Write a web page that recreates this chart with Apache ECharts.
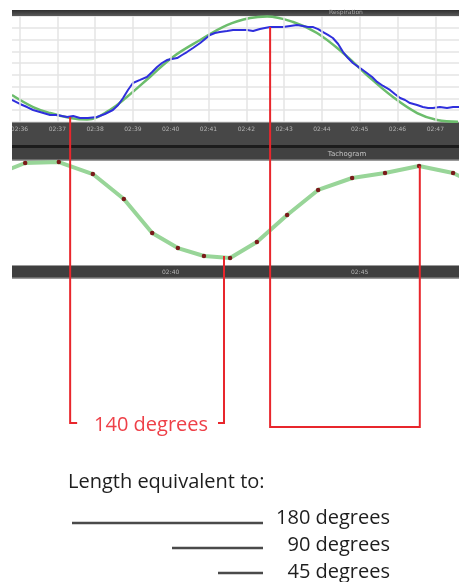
<!DOCTYPE html>
<html>
<head>
<meta charset="utf-8">
<script src="https://cdn.jsdelivr.net/npm/echarts@6/dist/echarts.min.js"></script>
<style>
html,body{margin:0;padding:0;background:#fff;}
#c{width:459px;height:582px;}
</style>
</head>
<body>
<div id="c"></div>
<script>
// ---- data (time in minutes "02:mm", values in arbitrary plot units) ----
const tickPrefix = '02:';
const topTitle = 'Respiration';
const bottomTitle = 'Tachogram';

const respT = [35.80,36.01,36.20,36.36,36.54,36.81,36.99,37.12,37.26,37.42,37.60,37.81,38.05,38.26,38.47,38.61,38.74,38.87,39.00,39.19,39.37,39.51,39.64,39.77,39.90,40.03,40.17,40.30,40.43,40.59,40.78,40.91,41.04,41.17,41.30,41.49,41.65,41.83,42.02,42.18,42.36,42.49,42.63,42.81,42.97,43.16,43.34,43.50,43.63,43.77,43.90,44.03,44.16,44.29,44.43,44.56,44.69,44.82,45.01,45.19,45.33,45.46,45.62,45.80,45.93,46.07,46.20,46.33,46.52,46.67,46.81,46.94,47.12,47.31,47.47,47.63];
const respV = [1.87,1.53,1.27,1.02,0.85,0.59,0.59,0.51,0.42,0.51,0.34,0.34,0.42,0.68,1.02,1.44,2.04,2.72,3.31,3.57,3.82,4.24,4.67,5.01,5.26,5.35,5.43,5.69,5.94,6.28,6.71,7.05,7.39,7.56,7.64,7.72,7.81,7.81,7.81,7.72,7.89,7.98,8.06,8.06,8.06,8.15,8.23,8.15,8.06,8.06,7.89,7.64,7.39,7.13,6.62,5.94,5.43,5.01,4.58,4.16,3.82,3.40,3.06,2.72,2.38,2.04,1.87,1.61,1.44,1.27,1.19,1.19,1.27,1.19,1.27,1.27];

const fitT = [35.80,36.36,36.81,37.34,37.79,38.39,38.84,39.45,40.06,40.78,41.49,42.10,42.55,43.24,43.87,44.56,45.19,45.88,46.52,47.05,47.60];
const fitV = [2.29,1.27,0.76,0.34,0.21,1.02,2.12,3.82,5.52,6.96,8.23,8.83,8.96,8.49,7.56,5.86,3.99,2.12,0.76,0.17,0.02];

const tachoT = [35.27,36.15,37.04,37.94,38.76,39.51,40.19,40.88,41.57,42.28,43.08,43.90,44.80,45.67,46.57,47.47,48.34];
const tachoV = [8.57,9.81,9.90,8.76,6.38,3.14,1.71,0.95,0.76,2.29,4.86,7.24,8.38,8.86,9.52,8.86,7.33];

// annotation: times the red markers point at
const markT = [37.34, 41.41, 42.63, 46.59];
const bracketLabel = '140 degrees';
const scaleTitle = 'Length equivalent to:';
const scaleLabels = ['180 degrees', '90 degrees', '45 degrees'];

const chart = echarts.init(document.getElementById('c'), null, {renderer: 'canvas'});

const gridLeft = -18.3, gridWidth = 491.4;
const option = {
  animation: false,
  backgroundColor: '#ffffff',
  grid: [
    {left: gridLeft, width: gridWidth, top: 16, height: 106, show: false, containLabel: false, outerBoundsMode: 'none'},
    {left: gridLeft, width: gridWidth, top: 161, height: 105, show: false, containLabel: false, outerBoundsMode: 'none'}
  ],
  xAxis: [
    {gridIndex: 0, type: 'value', min: 35, max: 48, interval: 1, z: 10,
     axisLine: {show: false}, axisTick: {show: false},
     axisLabel: {margin: 4, fontSize: 6, color: '#b4b4b4', fontFamily: 'DejaVu Sans', formatter: v => tickPrefix + v},
     splitLine: {show: true, lineStyle: {color: '#e4e4e4', width: 1.5}}},
    {gridIndex: 1, type: 'value', min: 35, max: 48, interval: 5, z: 10,
     axisLine: {show: false}, axisTick: {show: false},
     axisLabel: {margin: 3, fontSize: 6, color: '#b4b4b4', fontFamily: 'DejaVu Sans', formatter: v => tickPrefix + v},
     splitLine: {show: false}}
  ],
  yAxis: [
    {gridIndex: 0, type: 'value', min: 0, max: 9, interval: 1,
     axisLine: {show: false}, axisTick: {show: false}, axisLabel: {show: false},
     splitLine: {show: true, lineStyle: {color: '#e4e4e4', width: 1.5}}},
    {gridIndex: 1, type: 'value', min: 0, max: 10, show: false}
  ],
  series: [
    {type: 'line', xAxisIndex: 0, yAxisIndex: 0, smooth: 0.4, symbol: 'none', z: 3,
     lineStyle: {color: '#6cbd6c', width: 2.5},
     data: fitT.map((t, i) => [t, fitV[i]])},
    {type: 'line', xAxisIndex: 0, yAxisIndex: 0, smooth: false, symbol: 'none', z: 4,
     lineStyle: {color: '#2f2fdc', width: 2},
     data: respT.map((t, i) => [t, respV[i]])},
    {type: 'line', xAxisIndex: 1, yAxisIndex: 1, smooth: false, symbol: 'circle', symbolSize: 4.5, z: 3,
     showAllSymbol: true,
     lineStyle: {color: '#98d598', width: 4},
     itemStyle: {color: '#7a1a1a', borderWidth: 0},
     data: tachoT.map((t, i) => [t, tachoV[i]])}
  ]
};
chart.setOption(option);

const px = markT.map(t => chart.convertToPixel({xAxisIndex: 0}, t));
const red = '#e8262c';
const redLine = {stroke: red, lineWidth: 2, fill: null};
const font = '20px "Open Sans"';

const graphics = [
  // chrome bars
  {type: 'rect', z: 1, shape: {x: 12, y: 10, width: 447, height: 6},
   style: {fill: new echarts.graphic.LinearGradient(0, 0, 0, 1, [{offset: 0, color: '#2f2f2f'}, {offset: 1, color: '#5a5a5a'}])}},
  {type: 'text', z: 2, style: {text: topTitle, x: 346, y: 12, fill: '#a8a8a8', font: '6px DejaVu Sans', textAlign: 'center', textVerticalAlign: 'middle'}},
  {type: 'rect', z: 1, shape: {x: 12, y: 122, width: 447, height: 23}, style: {fill: '#474747'}},
  {type: 'rect', z: 1, shape: {x: 12, y: 122, width: 447, height: 1}, style: {fill: '#8c8c8c'}},
  {type: 'rect', z: 1, shape: {x: 12, y: 145, width: 447, height: 3}, style: {fill: '#1c1c1c'}},
  {type: 'rect', z: 1, shape: {x: 12, y: 148, width: 447, height: 12}, style: {fill: '#414141'}},
  {type: 'rect', z: 1, shape: {x: 12, y: 159.5, width: 447, height: 1.5}, style: {fill: '#9a9a9a'}},
  {type: 'text', z: 2, style: {text: bottomTitle, x: 347, y: 154, fill: '#c4c4c4', font: '7px DejaVu Sans', textAlign: 'center', textVerticalAlign: 'middle'}},
  {type: 'rect', z: 1, shape: {x: 12, y: 265, width: 447, height: 1.5}, style: {fill: '#9a9a9a'}},
  {type: 'rect', z: 1, shape: {x: 12, y: 266, width: 447, height: 12}, style: {fill: '#3f3f3f'}},
  {type: 'rect', z: 1, shape: {x: 12, y: 277.5, width: 447, height: 1.5}, style: {fill: '#9a9a9a'}},
  // white margin on the left
  {type: 'rect', z: 50, shape: {x: 0, y: 0, width: 12, height: 290}, style: {fill: '#ffffff'}},
  // red annotations
  {type: 'polyline', z: 60, shape: {points: [[px[0], 117], [px[0], 423], [px[0] + 7, 423]]}, style: redLine},
  {type: 'polyline', z: 60, shape: {points: [[px[1] - 6, 423], [px[1], 423], [px[1], 256]]}, style: redLine},
  {type: 'polyline', z: 60, shape: {points: [[px[2], 27], [px[2], 427], [px[3], 427], [px[3], 166]]}, style: redLine},
  {type: 'text', z: 60, style: {text: bracketLabel, x: (px[0] + px[1]) / 2 + 4, y: 425, fill: '#ee4048', font: font, textAlign: 'center', textVerticalAlign: 'middle'}},
  // scale explanation
  {type: 'text', z: 60, style: {text: scaleTitle, x: 68, y: 482, fill: '#1e1e1e', font: font, textAlign: 'left', textVerticalAlign: 'middle'}},
  {type: 'line', z: 60, shape: {x1: 72, y1: 523, x2: 263, y2: 523}, style: {stroke: '#4a4a4a', lineWidth: 2.5}},
  {type: 'line', z: 60, shape: {x1: 172, y1: 548, x2: 263, y2: 548}, style: {stroke: '#4a4a4a', lineWidth: 2.5}},
  {type: 'line', z: 60, shape: {x1: 218, y1: 573, x2: 263, y2: 573}, style: {stroke: '#4a4a4a', lineWidth: 2.5}},
  {type: 'text', z: 60, style: {text: scaleLabels[0], x: 390, y: 518, fill: '#1e1e1e', font: font, textAlign: 'right', textVerticalAlign: 'middle'}},
  {type: 'text', z: 60, style: {text: scaleLabels[1], x: 390, y: 545, fill: '#1e1e1e', font: font, textAlign: 'right', textVerticalAlign: 'middle'}},
  {type: 'text', z: 60, style: {text: scaleLabels[2], x: 390, y: 572, fill: '#1e1e1e', font: font, textAlign: 'right', textVerticalAlign: 'middle'}}
];
chart.setOption({graphic: graphics});
</script>
</body>
</html>
